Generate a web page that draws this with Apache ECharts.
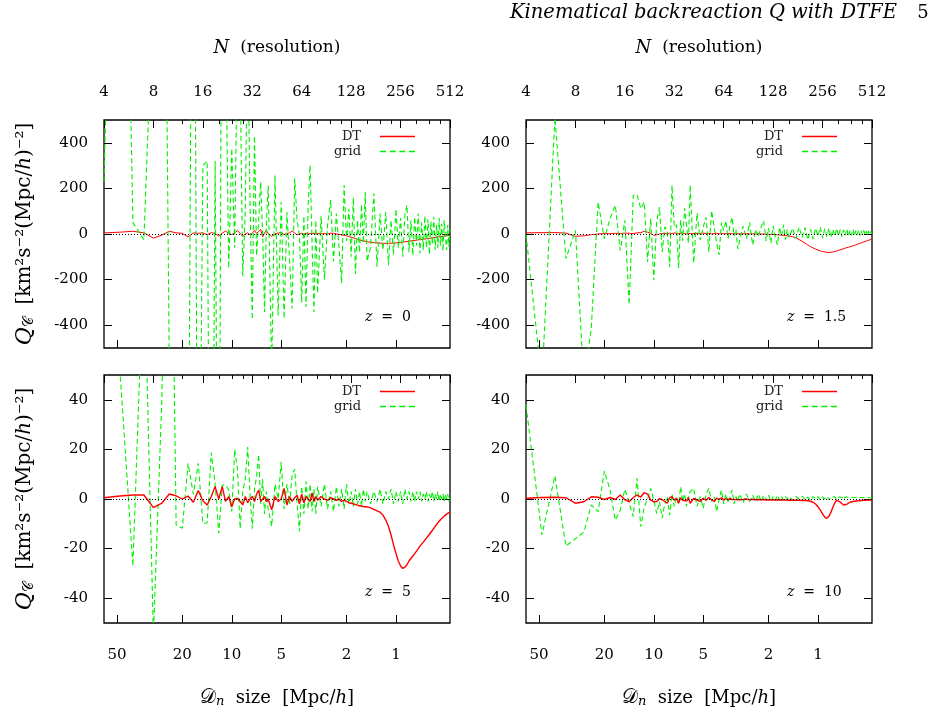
<!DOCTYPE html>
<html><head><meta charset="utf-8">
<script src="https://cdn.jsdelivr.net/npm/echarts@6/dist/echarts.min.js"></script>
<style>html,body{margin:0;padding:0;background:#fff}#c{width:933px;height:715px}</style>
</head><body><div id="c"></div>
<script>
// ---------- data ----------
const BOX_SIZE = 240; // Mpc/h, D = BOX_SIZE / N
const N_RES = [
 4,5,6,7,8,9,10,11,12,13,14,15,16,17,18,19,20,21,22,23,24,25,26,27,28,29,30,31,32,33,34,35,36,37,38,39,40,
 42,44,46,48,50,52,54,56,58,60,62,64,66,68,70,72,74,76,78,80,
 84,88,92,96,100,104,108,112,116,120,124,128,132,136,140,144,148,152,156,160,
 168,176,184,192,200,208,216,224,232,240,248,256,264,272,280,288,296,304,312,320,328,336,344,352,360,368,376,384,392,400,408,416,424,432,440,448,456,464,472,480,488,496,504,512
];
const N_TICKS = [4,8,16,32,64,128,256,512];
const N_MINOR = [12,20,24,28,40,48,56,80,96,112,160,192,224,320,384,448];
const D_TICKS = [50,20,10,5,2,1];
const Y_TICKS_TOP = [-400,-200,0,200,400];
const Y_TICKS_BOTTOM = [-40,-20,0,20,40];
const Z_LABELS = ['0','1.5','5','10'];

// z = 0
const TL_DT = [
 5,8,12,5,-18,-5,12,5,3,-13,5,3,5,-3,6,2,-9,4,13,2,-2,5,15,2,-10,0,5,-4,3,16,2,12,20,-13,5,16,2,
 -10,0,4,7,-3,2,5,13,4,-3,0,3,-2,4,0,2,-3,3,0,2,
 1,2,0,3,3,0,-2,-4,-6,-8,-11,-14,-17,-20,-23,-26,-28,-30,-32,-34,
 -36,-38,-39,-40,-41,-41,-41,-40,-40,-39,-38,-37,-36,-34,-33,-32,-30,-29,-28,-27,-26,-25,-24,-23,-22,-21,-20,-19,-18,-17,-16,-15,-14,-13,-12,-11,-10,-10,-9,-8,-8,-7,-6,-6
];
const TL_GRID = [
 230,3000,50,-25,1100,3000,-600,-2500,-2000,-1500,2500,-2000,300,320,-2500,320,-2000,2000,900,-150,375,-60,900,700,-185,100,900,150,-375,430,-95,60,228,0,-342,50,213,
 -600,257,-357,140,-371,96,-120,-327,243,60,-6,-300,80,-320,120,301,-40,-342,60,-260,
 80,-200,40,150,-120,90,-60,-215,215,-30,110,-100,160,-175,60,-80,130,-40,184,-120,
 -60,178,-143,90,-70,96,-137,60,-90,110,-60,70,-100,85,126,-80,60,-95,75,-50,90,-85,50,-70,80,-60,65,-90,55,-45,75,-70,40,-60,70,-50,45,-75,60,55,-70,40,-55,20
];
// z = 1.5
const TR_DT = [
 5,6,6,4,-10,-8,-3,0,2,1,3,2,4,3,2,5,6,12,8,3,-6,-4,0,2,3,1,4,2,5,2,1,3,4,2,0,3,2,
 2,3,1,4,2,3,0,2,3,1,2,2,1,3,2,1,2,1,2,1,
 1,2,1,1,0,1,0,0,-1,-1,-2,-2,-3,-3,-4,-5,-6,-7,-8,-9,
 -12,-16,-24,-32,-40,-48,-55,-61,-66,-70,-74,-77,-79,-80,-81,-80,-79,-77,-75,-72,-70,-67,-64,-62,-60,-58,-56,-54,-52,-50,-48,-45,-43,-41,-39,-37,-35,-33,-31,-29,-27,-26,-24,-22
];
const TR_GRID = [
 0,-650,510,-108,16,-650,-410,140,-20,67,126,-72,60,-310,170,172,111,140,-123,67,-203,53,118,-79,31,16,-145,213,31,40,-150,60,-30,113,38,-40,215,
 -128,91,-26,30,73,-79,102,30,-40,-92,51,15,58,-20,40,73,-10,20,-66,-30,
 35,-20,51,-48,20,-12,30,58,-30,25,-40,35,-20,-48,30,-10,40,-25,20,-15,
 25,-20,30,-15,28,-25,20,-22,25,-10,30,-18,22,-12,26,-15,20,-10,24,-8,20,-12,18,-6,22,-10,16,-5,20,-8,15,-4,18,-6,14,-5,16,-3,12,-6,14,-2,10,3
];
// z = 5
const BL_DT = [
 0.5,1.2,1.6,1.6,-3.5,-1.7,2,1.3,0,1.2,-1.3,3.4,-0.7,-2.4,1,5,0,5,-1,1,-3.1,0,0.2,-1,-2.4,1,-1.5,0,1,-1,2,3.6,-1,0,1,-1,0,
 -4.4,1,-1,0,4.3,-2.4,1,-1,0.5,1.5,-2,2,-1.5,1,0,-1,2.5,-1,1,-0.5,
 1,0,-0.5,0.5,0,-0.5,0,-1,-0.5,-1,-1.5,-1.7,-2,-2.2,-2.5,-2.7,-2.9,-3,-3.1,-3.2,
 -3.6,-4.2,-4.8,-5.3,-6.5,-8.5,-11,-14.5,-18.5,-22,-25,-27,-28,-27.5,-26.5,-25,-24,-23,-22,-21,-20,-19,-18.2,-17.4,-16.6,-15.8,-15,-14.2,-13.4,-12.6,-11.8,-11,-10.3,-9.6,-9,-8.4,-7.9,-7.4,-6.9,-6.5,-6.1,-5.8,-5.5,-5.2
];
const BL_GRID = [
 120,52,-27,100,-55,40,200,-10.5,-11.8,14.4,2,14.4,-9.8,-9.7,18.7,6.3,-13.8,5.6,5.6,3.6,-5,20,12,-12,3,8,21,2,-12,4,9,18,-2,8,-6,3,-4,
 -11,6,0,15,-4,6,-2,10,12,-2,-13,5,-6,7,-4,6,-5,4,-6,5,
 -3,6,-4,3,-5,5,-3,4,-4,6,-2,3,-3,4,-2,3,-3,4,-1,3,
 -2,3,-1,4,-2,3,0,4,-2,3,-1,3,-2,4,0,3,-1,3,-1,3,0,3,-1,2,0,3,-1,2,0,3,-1,2,0,3,-1,2,0,2,-1,2,0,2,-1,1
];
// z = 10
const BR_DT = [
 0.3,0.6,0.7,0.5,-1.7,-1.1,0.9,0.7,-0.2,0.6,-0.2,1.6,-0.3,-1.1,0.6,1.6,0.8,2.6,2,-0.5,-1.1,-1,0.2,-0.3,-1,-1.7,0.5,1,-0.5,0.3,-1.7,0.5,-0.5,0.2,-0.8,0.6,-1.7,
 0.2,-0.4,-1,0.3,-0.5,0.6,-0.3,-1,0.4,-0.2,0.5,-0.5,0.2,-0.3,0.1,-0.2,0.2,-0.2,0,-0.3,
 -0.2,0,-0.3,-0.1,-0.3,-0.2,-0.3,-0.2,-0.4,-0.3,-0.4,-0.3,-0.4,-0.3,-0.4,-0.4,-0.5,-0.4,-0.5,-0.5,
 -0.5,-0.5,-0.5,-0.6,-0.6,-0.7,-0.9,-1.3,-2,-3.1,-4.5,-6,-7.3,-7.8,-7,-5.3,-3.2,-1.5,-0.5,-0.6,-1.3,-2,-2.4,-2.4,-2.1,-1.7,-1.3,-1.1,-1,-0.9,-0.8,-0.7,-0.7,-0.6,-0.6,-0.6,-0.5,-0.5,-0.5,-0.5,-0.4,-0.4,-0.4,-0.4
];
const BR_GRID = [
 38,-14.5,9.3,-19,-16,-13.4,-2.4,-5.1,11.3,3.6,-8.5,-4.4,3.9,-1.7,-7.1,8.3,-11.2,-3.1,0,4.3,-0.4,-5.8,-1,-7.7,-2,1,-6.5,2,-3,1,-2,5,-1,2,-3,1,3,
 4.3,-3,1,-3.8,2,4.3,-1,1,-5.1,0,3.6,-2,2,-1.5,1,3.6,-2,1,-1,2,
 -1.5,2,-1,1.5,-1,2,-1,1.5,-0.5,1.5,-1,1,-0.5,1.5,-0.5,1,-0.5,1,0,1,
 -0.5,1,0,1.2,-0.3,0.8,-0.5,1,0,1,-0.3,0.8,0,1,-0.3,0.8,0,0.9,-0.2,0.8,0,0.7,-0.2,0.8,0,0.7,-0.1,0.7,0,0.6,-0.1,0.7,0,0.6,0,0.6,0,0.5,0,0.6,0,0.5,0,0.3
];

// ---------- layout / style ----------
const FONT = 'DejaVu Serif';
const RED = '#ff0000', GREEN = '#00f000';
const PANELS = [
  {left:104, top:120, h:228, ymax:500, yt:Y_TICKS_TOP,    dt:TL_DT, gr:TL_GRID, topRow:true,  leftCol:true},
  {left:526, top:120, h:228, ymax:500, yt:Y_TICKS_TOP,    dt:TR_DT, gr:TR_GRID, topRow:true,  leftCol:false},
  {left:104, top:375, h:248, ymax:50,  yt:Y_TICKS_BOTTOM, dt:BL_DT, gr:BL_GRID, topRow:false, leftCol:true},
  {left:526, top:375, h:248, ymax:50,  yt:Y_TICKS_BOTTOM, dt:BR_DT, gr:BR_GRID, topRow:false, leftCol:false}
];
const PW = 346;
const DT_ICON = 'path://M0 0H35V1.3H0Z';
const GRID_ICON = 'path://M0 0H6V1.3H0Z M9.7 0H15.7V1.3H9.7Z M19.3 0H25.3V1.3H19.3Z M29 0H35V1.3H29Z';
const tickLine = {color:'#000', width:1};
const lblStyle = {fontFamily:FONT, fontSize:15, color:'#000'};

const grids=[], xAxes=[], yAxes=[], series=[], legends=[], graphics=[];
PANELS.forEach((p,i)=>{
  grids.push({left:p.left, top:p.top, width:PW, height:p.h, show:true, borderColor:'#000', borderWidth:1.3, backgroundColor:'rgba(0,0,0,0)'});
  // bottom: cell size D
  xAxes.push({gridIndex:i, type:'log', logBase:10, min:BOX_SIZE/512, max:BOX_SIZE/4, inverse:true, position:'bottom',
    axisLine:{show:false, onZero:false}, splitLine:{show:false},
    axisTick:{show:true, inside:true, length:8, customValues:D_TICKS, lineStyle:tickLine},
    axisLabel:Object.assign({show:!p.topRow, customValues:D_TICKS, margin:25, formatter:v=>String(Math.round(v))}, lblStyle),
    name: p.topRow ? '' : '{d|𝒟}{n|n}  size  [Mpc/{i|h}]', nameLocation:'middle', nameGap:65,
    nameTextStyle:{fontFamily:FONT, fontSize:18, color:'#000', rich:{d:{fontFamily:FONT,fontSize:20}, n:{fontFamily:FONT,fontSize:13,fontStyle:'italic',verticalAlign:'bottom'}, i:{fontFamily:FONT,fontSize:18,fontStyle:'italic'}}}
  });
  // top: resolution N
  xAxes.push({gridIndex:i, type:'log', logBase:2, min:4, max:512, position:'top',
    axisLine:{show:false, onZero:false}, splitLine:{show:false},
    axisTick:{show:true, inside:true, length:8, customValues:N_TICKS, lineStyle:tickLine},
    axisLabel:Object.assign({show:p.topRow, customValues:N_TICKS, margin:20, formatter:v=>String(Math.round(v))}, lblStyle),
    name: p.topRow ? '{n|N}  (resolution)' : '', nameLocation:'middle', nameGap:63,
    nameTextStyle:{fontFamily:FONT, fontSize:17, color:'#000', rich:{n:{fontFamily:FONT,fontSize:18,fontStyle:'italic'}}}
  });
  // top minor ticks
  xAxes.push({gridIndex:i, type:'log', logBase:2, min:4, max:512, position:'top',
    axisLine:{show:false, onZero:false}, splitLine:{show:false},
    axisTick:{show:true, inside:true, length:4, customValues:N_MINOR, lineStyle:tickLine},
    axisLabel:{show:false}
  });
  yAxes.push({gridIndex:i, type:'value', min:-p.ymax, max:p.ymax, position:'left',
    axisLine:{show:false, onZero:false}, splitLine:{show:false},
    axisTick:{show:true, inside:true, length:8, customValues:p.yt, lineStyle:tickLine},
    axisLabel:Object.assign({show:true, customValues:p.yt, margin:16}, lblStyle),
    name: p.leftCol ? '{q|Q}{c|𝒞}  [km²s⁻²(Mpc/{i|h})⁻²]' : '', nameLocation:'middle', nameRotate:90, nameGap:68,
    nameTextStyle:{fontFamily:FONT, fontSize:20, color:'#000', rich:{q:{fontFamily:FONT,fontSize:22,fontStyle:'italic'}, c:{fontFamily:FONT,fontSize:14,verticalAlign:'bottom'}, i:{fontFamily:FONT,fontSize:20,fontStyle:'italic'}}}
  });
  yAxes.push({gridIndex:i, type:'value', min:-p.ymax, max:p.ymax, position:'right',
    axisLine:{show:false, onZero:false}, splitLine:{show:false},
    axisTick:{show:true, inside:true, length:8, customValues:p.yt, lineStyle:tickLine},
    axisLabel:{show:false}
  });
  const xi = i*3+1, yi = i*2;
  series.push({name:'DT', type:'line', xAxisIndex:xi, yAxisIndex:yi, color:RED, symbol:'none', animation:false,
    data:N_RES.map((n,k)=>[n,p.dt[k]]), lineStyle:{color:RED, width: p.topRow?1:1.4}, z:3,
    markLine:{silent:true, symbol:'none', label:{show:false}, lineStyle:{color:'#000', type:[1,2], width:1}, data:[{yAxis:0}], animation:false}
  });
  series.push({name:'grid', type:'line', xAxisIndex:xi, yAxisIndex:yi, color:GREEN, symbol:'none', animation:false,
    data:N_RES.map((n,k)=>[n,p.gr[k]]), lineStyle:{color:GREEN, width:1.1, type:[5,3]}, z: p.topRow?4:2
  });
  const iconRight = 933 - (p.left + 311);
  const ly = p.top + 18;
  legends.push({data:[{name:'DT', icon:DT_ICON}], right:iconRight, top:ly-8, orient:'vertical', align:'right',
    itemWidth:35, itemHeight:10, padding:0, selectedMode:false, itemStyle:{borderWidth:0},
    textStyle:{fontFamily:FONT, fontSize:13, color:'#222', padding:[0,14,0,0]}});
  legends.push({data:[{name:'grid', icon:GRID_ICON}], right:iconRight, top:ly+7, orient:'vertical', align:'right',
    itemWidth:35, itemHeight:10, padding:0, selectedMode:false, itemStyle:{borderWidth:0},
    textStyle:{fontFamily:FONT, fontSize:13, color:'#222', padding:[0,14,0,0]}});
  graphics.push({type:'text', x:p.left+261, y:p.top+p.h-31, style:{text:'{i|z}  =  '+Z_LABELS[i], fontFamily:FONT, fontSize:14, fill:'#000', verticalAlign:'middle', rich:{i:{fontFamily:FONT,fontSize:14,fontStyle:'italic'}}}});
});
graphics.push({type:'text', x:897, y:13, style:{text:'Kinematical backreaction Q with DTFE', fontFamily:FONT, fontSize:19.5, fontStyle:'italic', fill:'#000', align:'right', verticalAlign:'middle'}});
graphics.push({type:'text', x:923, y:13, style:{text:'5', fontFamily:FONT, fontSize:18, fill:'#000', align:'center', verticalAlign:'middle'}});

const chart = echarts.init(document.getElementById('c'));
chart.setOption({animation:false, backgroundColor:'#fff', grid:grids, xAxis:xAxes, yAxis:yAxes, series:series, legend:legends, graphic:graphics});
</script></body></html>
